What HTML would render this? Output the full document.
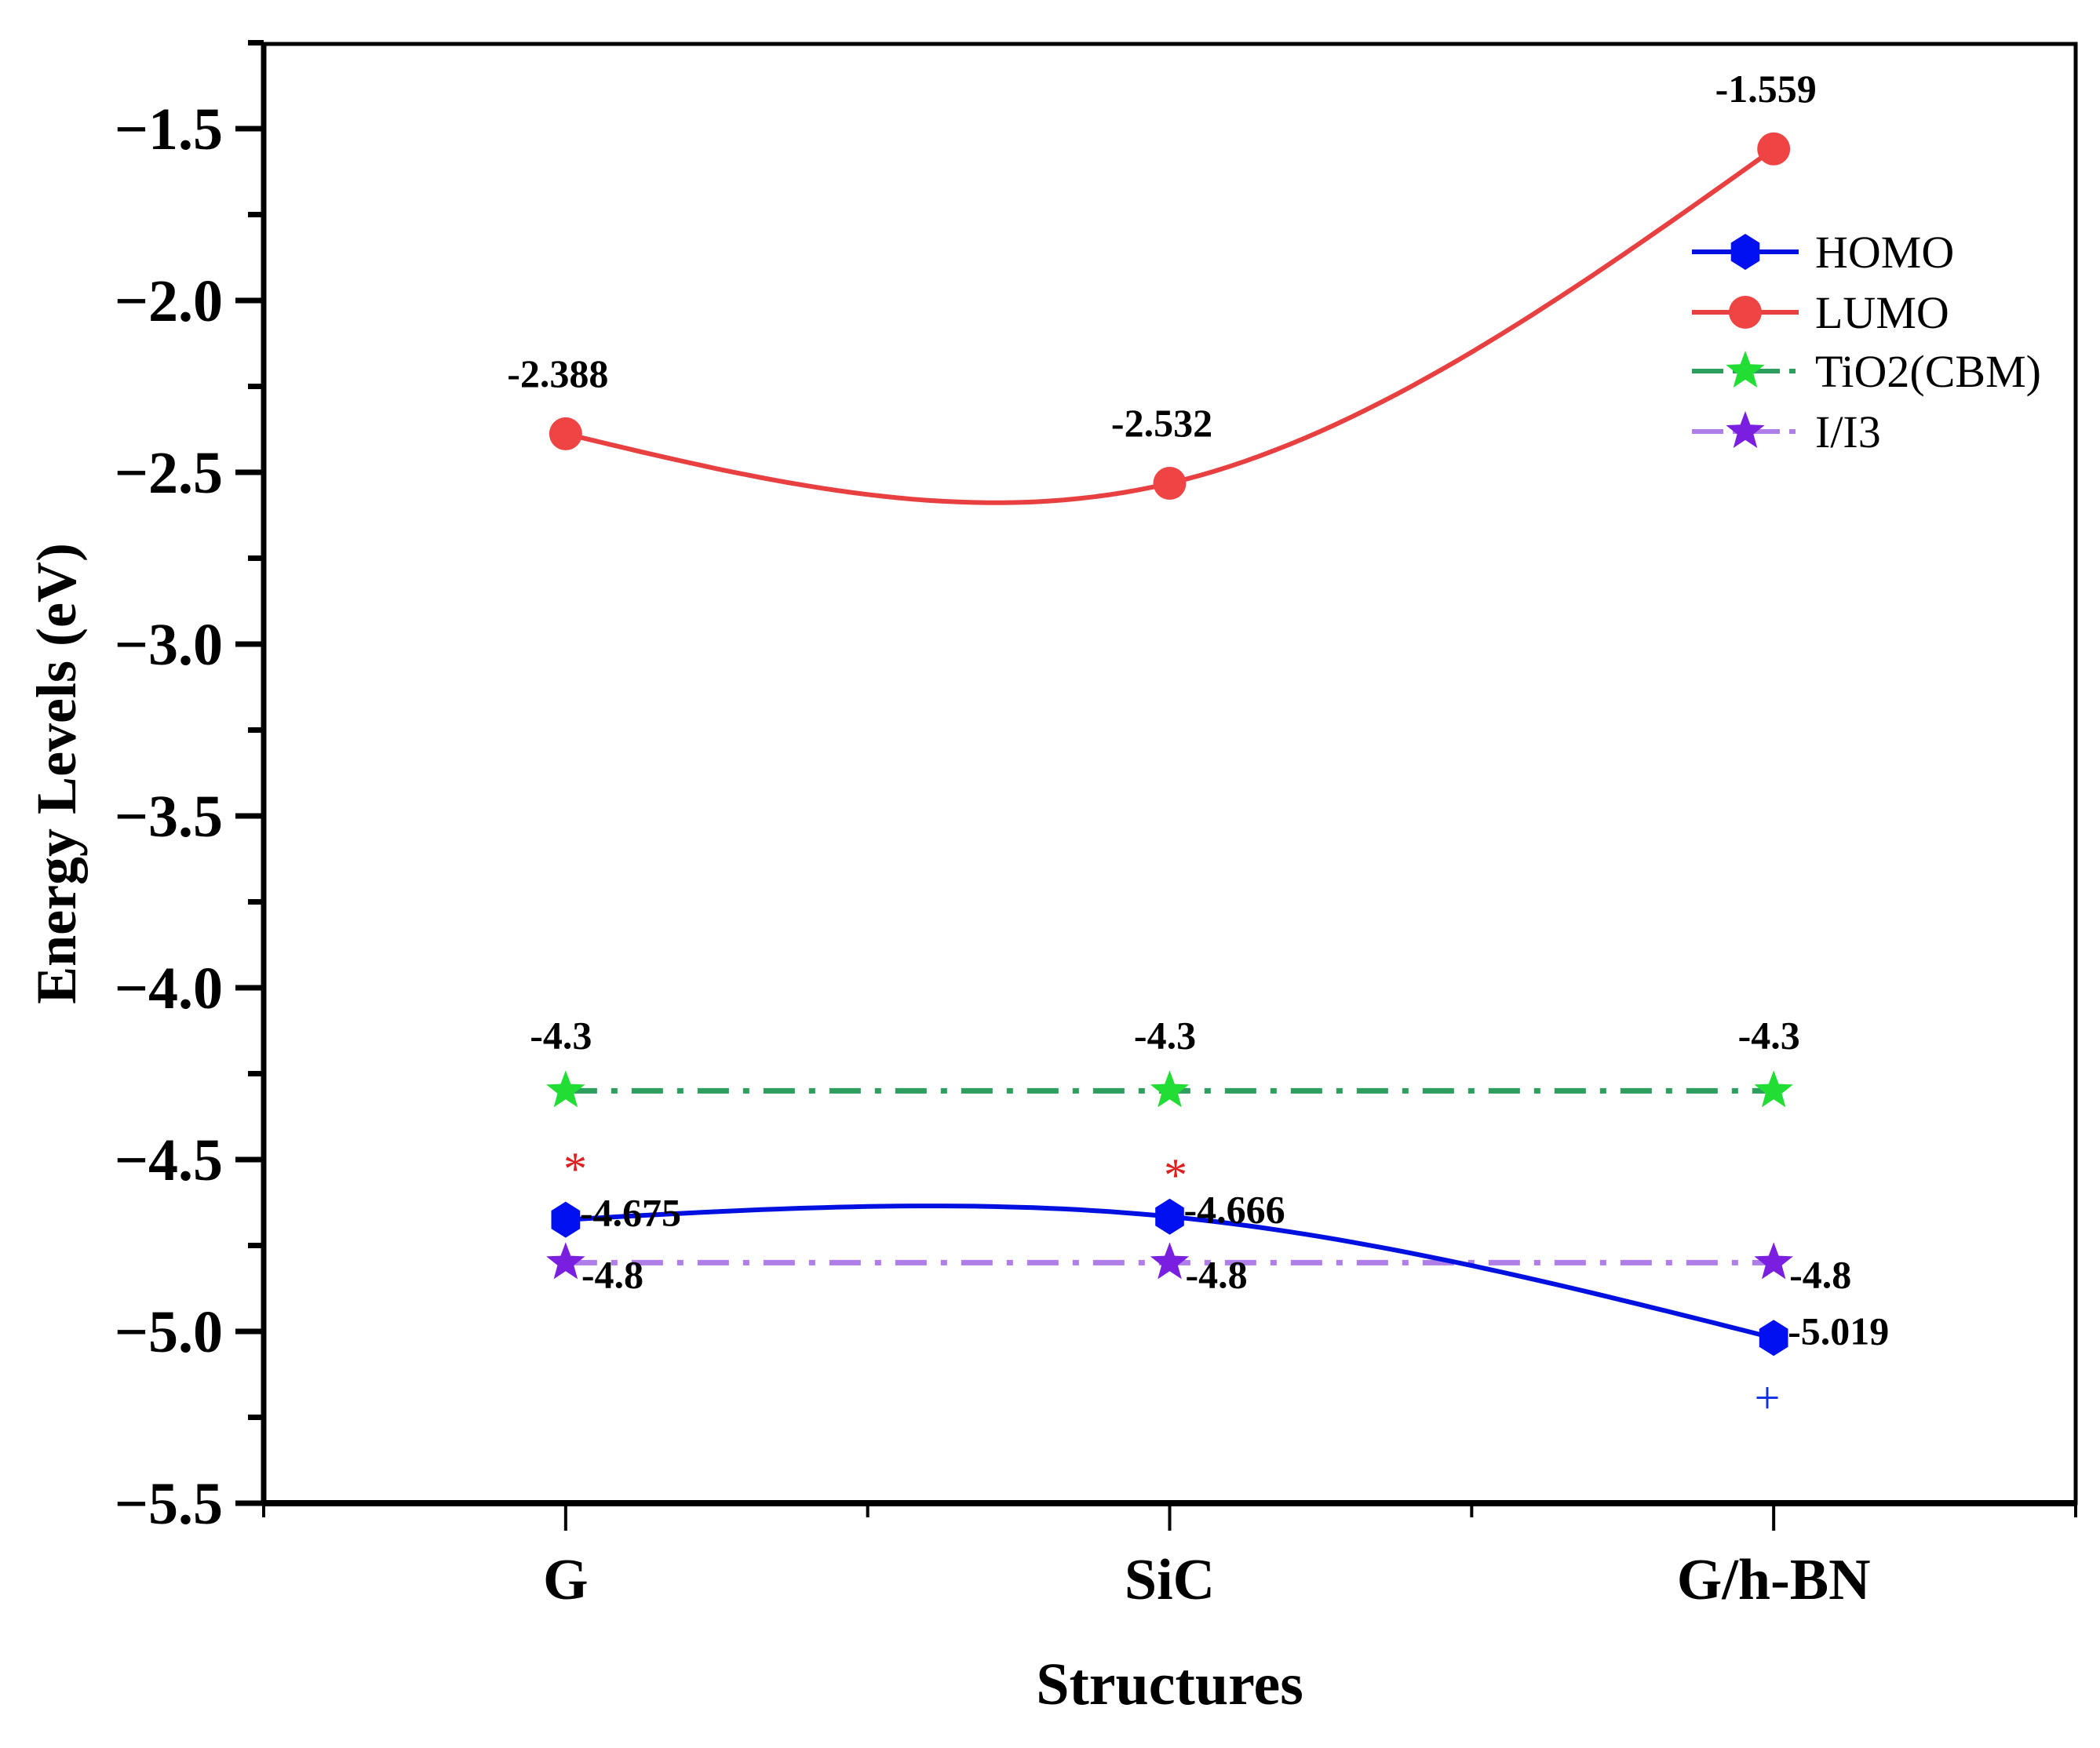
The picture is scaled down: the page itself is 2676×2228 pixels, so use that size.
<!DOCTYPE html>
<html><head><meta charset="utf-8">
<style>
html,body{margin:0;padding:0;background:#fff;}
svg{display:block;font-family:"Liberation Serif",serif;}
</style></head>
<body>
<svg id="chart" width="2676" height="2228" viewBox="0 0 2676 2228" xmlns="http://www.w3.org/2000/svg"></svg>
<script>
const categories = ["G", "SiC", "G/h-BN"];
const homo = [-4.675, -4.666, -5.019];
const lumo = [-2.388, -2.532, -1.559];
const tio2 = [-4.3, -4.3, -4.3];
const iodide = [-4.8, -4.8, -4.8];
const homoLabels = ["-4.675", "-4.666", "-5.019"];
const lumoLabels = ["-2.388", "-2.532", "-1.559"];
const tio2Labels = ["-4.3", "-4.3", "-4.3"];
const iodideLabels = ["-4.8", "-4.8", "-4.8"];
const yTicks = [-1.5, -2.0, -2.5, -3.0, -3.5, -4.0, -4.5, -5.0, -5.5];
const yTickLabels = ["\u22121.5", "\u22122.0", "\u22122.5", "\u22123.0", "\u22123.5", "\u22124.0", "\u22124.5", "\u22125.0", "\u22125.5"];

const NS = "http://www.w3.org/2000/svg";
const svg = document.getElementById("chart");
const L = 336, R = 2645, T = 56, B = 1916;
const xMin = -0.5, xMax = 2.5, yMin = -5.5, yMax = -1.2535;
const sx = v => L + (v - xMin) / (xMax - xMin) * (R - L);
const sy = v => B - (v - yMin) / (yMax - yMin) * (B - T);

function el(tag, attrs, parent) {
  const e = document.createElementNS(NS, tag);
  for (const k in attrs) e.setAttribute(k, attrs[k]);
  (parent || svg).appendChild(e);
  return e;
}
function txt(s, attrs, parent) { const e = el("text", attrs, parent); e.textContent = s; return e; }

// natural cubic spline path
function splinePath(ys) {
  const n = ys.length, xs = ys.map((_, i) => i);
  const a = ys.slice(), c = new Array(n).fill(0);
  if (n === 3) { c[1] = 3 * (a[2] - 2 * a[1] + a[0]) / 4; }
  let d = "";
  for (let i = 0; i < n - 1; i++) {
    const b = (a[i + 1] - a[i]) - (2 * c[i] + c[i + 1]) / 3;
    const dd = (c[i + 1] - c[i]) / 3;
    for (let k = 0; k <= 40; k++) {
      const t = k / 40;
      const y = a[i] + b * t + c[i] * t * t + dd * t * t * t;
      d += (d ? "L" : "M") + sx(xs[i] + t).toFixed(1) + "," + sy(y).toFixed(1);
    }
  }
  return d;
}
function starPts(cx, cy, r) {
  let p = [];
  for (let i = 0; i < 10; i++) {
    const ang = -Math.PI / 2 + i * Math.PI / 5, rr = i % 2 ? r * 0.42 : r;
    p.push((cx + rr * Math.cos(ang)).toFixed(1) + "," + (cy + rr * Math.sin(ang)).toFixed(1));
  }
  return p.join(" ");
}
function hexPts(cx, cy, r) {
  let p = [];
  for (let i = 0; i < 6; i++) {
    const ang = -Math.PI / 2 + i * Math.PI / 3;
    p.push((cx + r * 0.92 * Math.cos(ang)).toFixed(1) + "," + (cy + r * Math.sin(ang)).toFixed(1));
  }
  return p.join(" ");
}

// Axes frame
const axes = el("g", { });
const frame = el("rect", {x: L, y: T, width: R - L, height: B - T, fill: "none", stroke: "#000", "stroke-width": 5}, axes);


const xAxisLine = el("line", {x1: L - 2, y1: B, x2: R + 2, y2: B, stroke: "#000", "stroke-width": 8}, axes);


const yAxisLine = el("line", {x1: L, y1: T, x2: L, y2: B, stroke: "#000", "stroke-width": 7}, axes);



// Y ticks
yTicks.forEach((v, i) => {
  const y = sy(v);
  const tk = el("line", {x1: L - 36, y1: y, x2: L, y2: y, stroke: "#000", "stroke-width": 7}, axes);
  
  
  const lb = txt(yTickLabels[i], {x: L - 52, y: y + 26, "text-anchor": "end", "font-size": 76, "font-weight": "bold"}, axes);
  
  
  if (i < yTicks.length - 1) {
    const ym = sy(v - 0.25);
    const mt = el("line", {x1: L - 20, y1: ym, x2: L, y2: ym, stroke: "#000", "stroke-width": 7}, axes);
    
    
  }
});
// y minor above -1.5
{
  const ym = sy(-1.25);
  if (ym >= T - 2) {
    const mt = el("line", {x1: L - 20, y1: ym, x2: L, y2: ym, stroke: "#000", "stroke-width": 7}, axes);
    
    
  }
}
// X ticks
categories.forEach((c, i) => {
  const x = sx(i);
  const tk = el("line", {x1: x, y1: B, x2: x, y2: B + 35, stroke: "#000", "stroke-width": 4}, axes);
  
  
  const lb = txt(c, {x: x, y: B + 122, "text-anchor": "middle", "font-size": 74, "font-weight": "bold"}, axes);
  
  
});
for (let k = -0.5; k <= 2.5; k += 1) {
  const x = sx(k);
  const mt = el("line", {x1: x, y1: B, x2: x, y2: B + 18, stroke: "#000", "stroke-width": 4}, axes);
  
  
}
const xTitle = txt("Structures", {x: (L + R) / 2, y: 2172, "text-anchor": "middle", "font-size": 76, "font-weight": "bold"});


const yTitle = txt("Energy Levels (eV)", {x: 0, y: 0, "text-anchor": "middle", "font-size": 72, "font-weight": "bold", transform: "translate(96,986) rotate(-90)"});



// Series
function straightPath(ys) { return ys.map((v, i) => (i ? "L" : "M") + sx(i) + "," + sy(v)).join(""); }

const gT = el("g", { });
el("path", {d: straightPath(tio2), fill: "none", stroke: "#2e9e5e", "stroke-width": 7, "stroke-dasharray": "40 18 8 18"}, gT);
tio2.forEach((v, i) => {
  const s = el("polygon", {points: starPts(sx(i), sy(v), 26), fill: "#22dd33"}, gT);
  
  
  const t = txt(tio2Labels[i], {x: sx(i) - 6, y: sy(v) - 54, "text-anchor": "middle", "font-size": 50, "font-weight": "bold"}, gT);
  
  
});

const gI = el("g", { });
el("path", {d: straightPath(iodide), fill: "none", stroke: "#b07ee8", "stroke-width": 7, "stroke-dasharray": "40 18 8 18"}, gI);
iodide.forEach((v, i) => {
  const s = el("polygon", {points: starPts(sx(i), sy(v), 26), fill: "#7a1ee0"}, gI);
  
  
  const t = txt(iodideLabels[i], {x: sx(i) + 20, y: sy(v) + 32, "font-size": 50, "font-weight": "bold"}, gI);
  
  
});

const gH = el("g", { });
el("path", {d: splinePath(homo), fill: "none", stroke: "#0010e0", "stroke-width": 6}, gH);
homo.forEach((v, i) => {
  const s = el("polygon", {points: hexPts(sx(i), sy(v), 23), fill: "#0010f0"}, gH);
  
  
  const t = txt(homoLabels[i], {x: sx(i) + 18, y: sy(v) + 8, "font-size": 50, "font-weight": "bold"}, gH);
  
  
});

const gL = el("g", { });
el("path", {d: splinePath(lumo), fill: "none", stroke: "#e84040", "stroke-width": 6}, gL);
lumo.forEach((v, i) => {
  const s = el("circle", {cx: sx(i), cy: sy(v), r: 21, fill: "#ee4444"}, gL);
  
  
  const t = txt(lumoLabels[i], {x: sx(i) - 10, y: sy(v) - 60, "text-anchor": "middle", "font-size": 50, "font-weight": "bold"}, gL);
  
  
});

// annotations
const a1 = txt("*", {x: 733, y: 1510, "text-anchor": "middle", "font-size": 60, fill: "#e02020"});


const a2 = txt("*", {x: 1498, y: 1518, "text-anchor": "middle", "font-size": 60, fill: "#e02020"});


const p1 = txt("+", {x: 2252, y: 1801, "text-anchor": "middle", "font-size": 58, fill: "#1030e0"});



// Legend
const leg = el("g", { });
const legItems = [
  {name: "HOMO", y: 321, color: "#0010e0", mk: "hex", dash: null, mc: "#0010f0"},
  {name: "LUMO", y: 398, color: "#e84040", mk: "circle", dash: null, mc: "#ee4444"},
  {name: "TiO2(CBM)", y: 473, color: "#2e9e5e", mk: "star", dash: "40 12 8 12", mc: "#22dd33"},
  {name: "I/I3", y: 550, color: "#b07ee8", mk: "star", dash: "40 12 8 12", mc: "#7a1ee0"}
];
legItems.forEach(it => {
  const g = el("g", {}, leg);
  
  
  const ln = {x1: 2156, y1: it.y, x2: 2292, y2: it.y, stroke: it.color, "stroke-width": 6};
  if (it.dash) ln["stroke-dasharray"] = it.dash;
  el("line", ln, g);
  if (it.mk === "hex") el("polygon", {points: hexPts(2224, it.y, 23), fill: it.mc}, g);
  else if (it.mk === "circle") el("circle", {cx: 2224, cy: it.y, r: 21, fill: it.mc}, g);
  else el("polygon", {points: starPts(2224, it.y, 26), fill: it.mc}, g);
  txt(it.name, {x: 2313, y: it.y + 20, "font-size": 58}, g);
});
</script>
</body></html>
